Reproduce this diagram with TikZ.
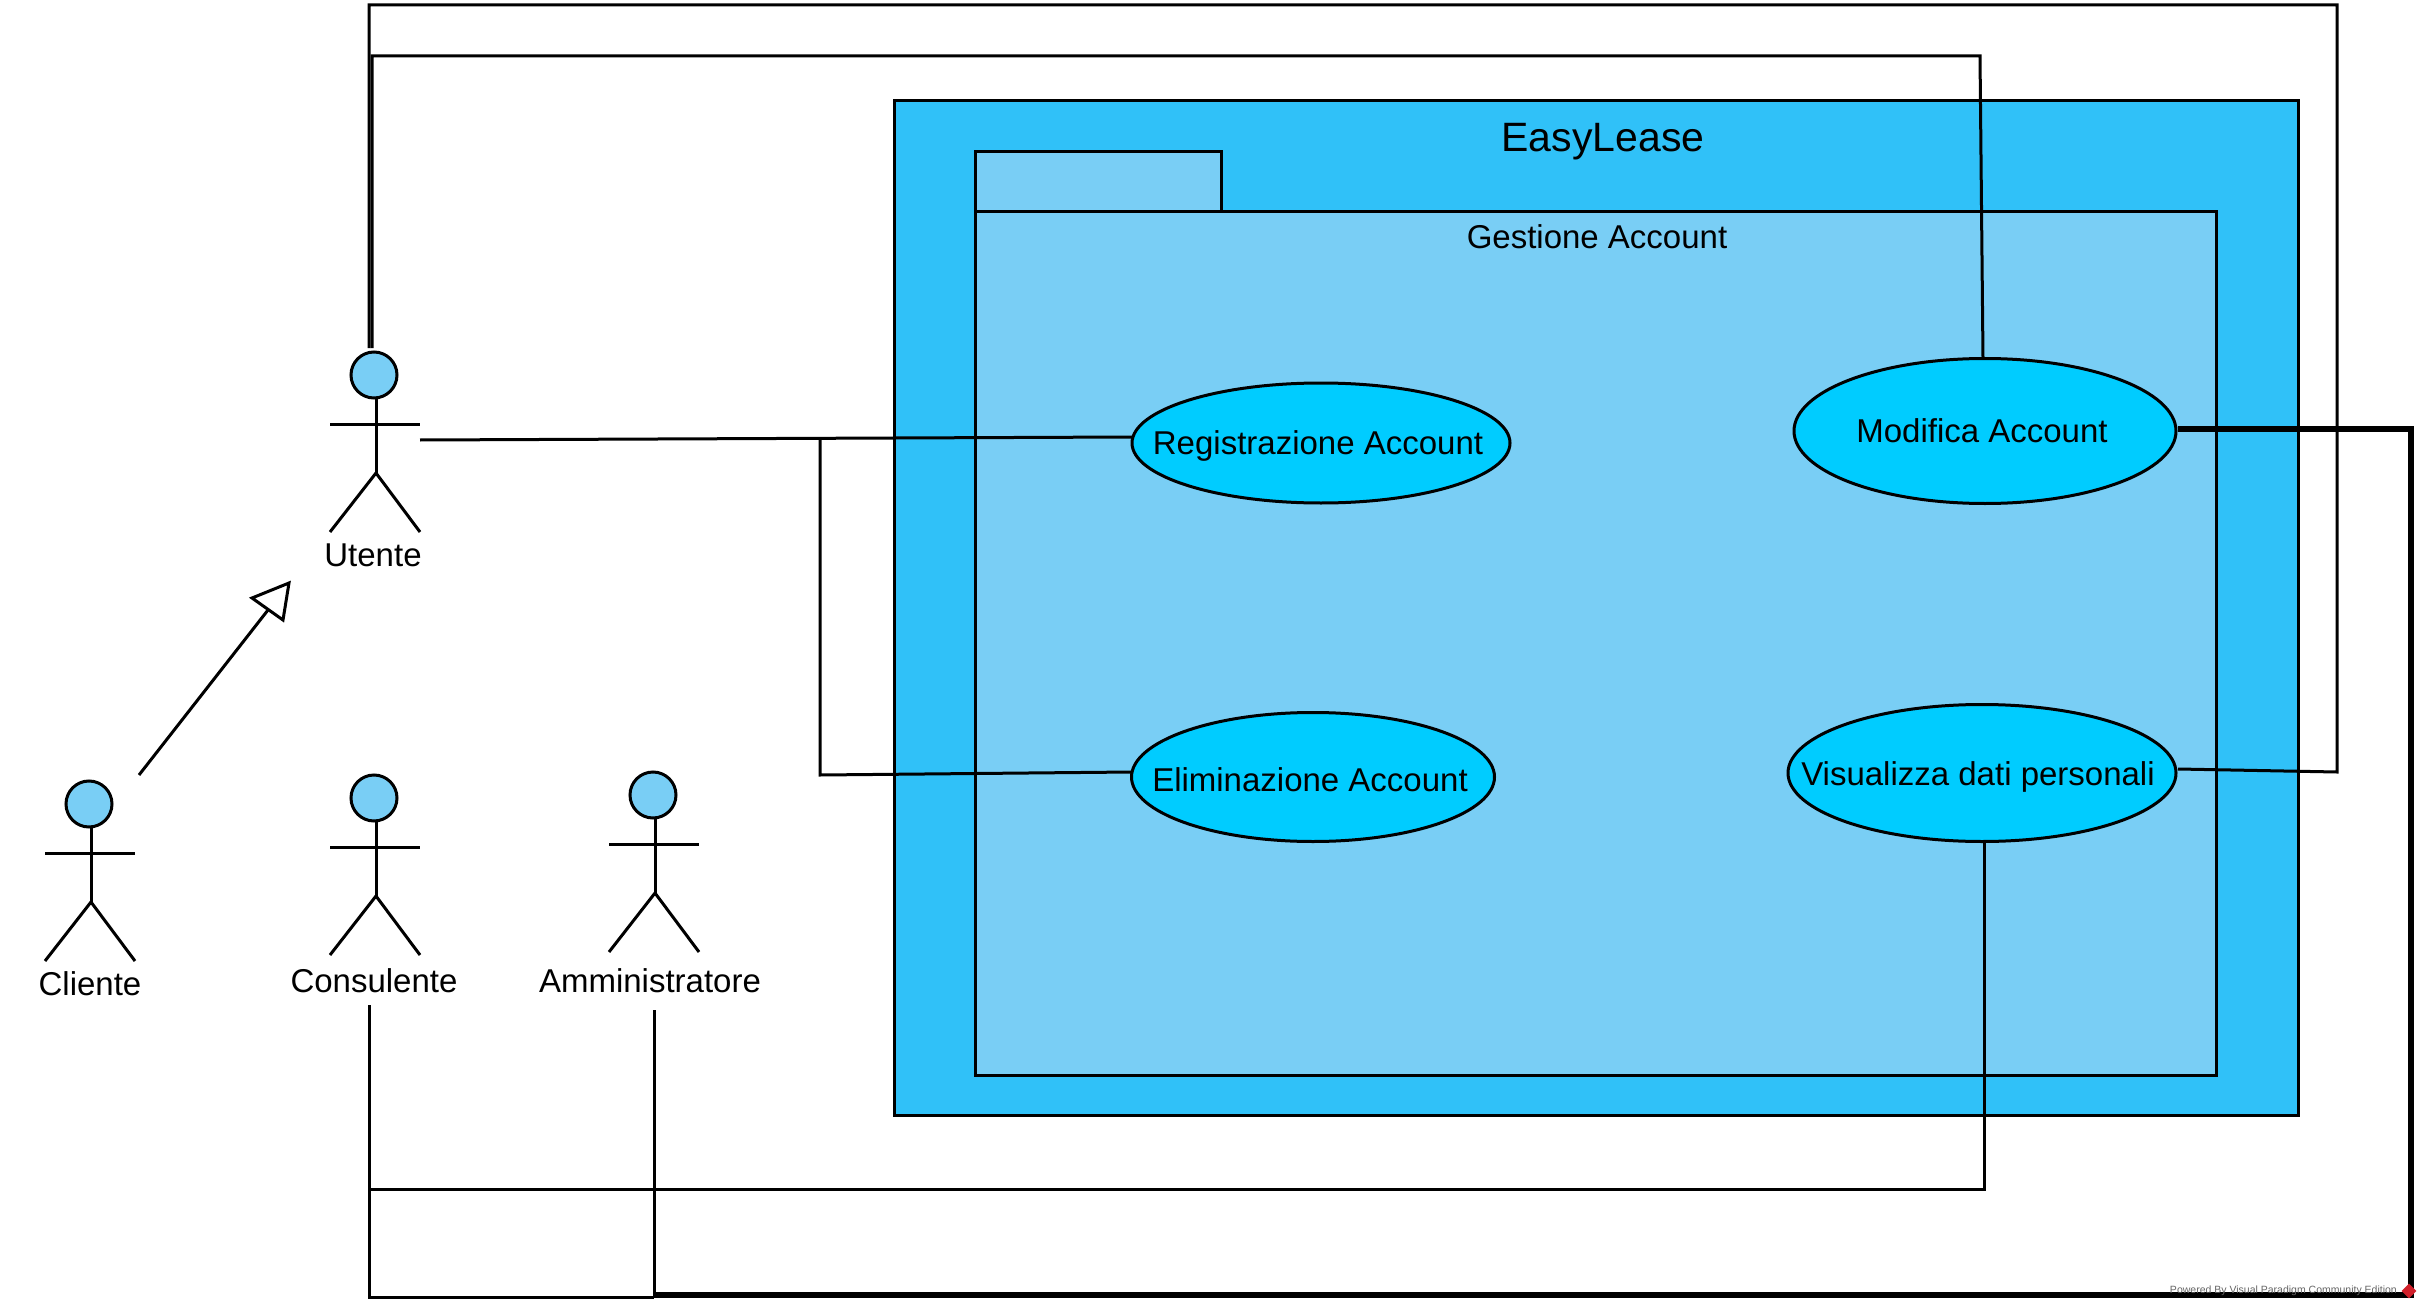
\documentclass[tikz,border=0pt]{standalone}
\usepackage{fontspec}
\setmainfont{Liberation Sans}
\usetikzlibrary{shapes.geometric}
\definecolor{sysblue}{HTML}{30C1F8}
\definecolor{pkgblue}{HTML}{79CEF5}
\definecolor{ucblue}{HTML}{00CCFF}
\definecolor{logored}{HTML}{D0202A}
\tikzset{
  ln/.style={line width=3pt,line join=miter},
  boxfill/.style={draw,line width=3pt,inner sep=0pt,outer sep=0pt,anchor=north west},
  uc/.style={ellipse,draw,line width=3pt,fill=ucblue,inner sep=0pt,outer sep=0pt},
  head/.style={circle,draw,line width=3pt,fill=pkgblue,minimum size=46pt,inner sep=0pt,outer sep=0pt},
  lbl/.style={inner sep=0pt,font=\fontsize{33}{38}\selectfont},
}
\newcommand{\actorbody}[2]{%
  \draw[ln] (#1+2,#2+23) -- (#1+2,#2+98);
  \draw[ln] (#1-44,#2+49) -- (#1+46,#2+49);
  \draw[ln,line join=round] (#1-44,#2+157) -- (#1+2,#2+98) -- (#1+46,#2+157);
}
\begin{document}
\begin{tikzpicture}[x=1pt,y=-1pt]
\useasboundingbox (0,0) rectangle (2421,1308);
\fill[white] (0,0) rectangle (2421,1308);
% system and package
\node[boxfill,fill=sysblue,minimum width=1404pt,minimum height=1014pt] (sys) at (894,101) {};
\node[lbl,font=\fontsize{41}{46}\selectfont] (sysname) at (1603,142) {EasyLease};
\node[boxfill,fill=pkgblue,minimum width=246pt,minimum height=62pt] (tab) at (975.5,152) {};
\node[boxfill,fill=pkgblue,minimum width=1241pt,minimum height=863pt] (pkg) at (975.5,212) {};
\node[lbl] (pkgname) at (1597,237) {Gestione Account};
% use cases
\node[uc,minimum width=378pt,minimum height=120pt] (reg) at (1321,443) {};
\node[lbl] (regt) at (1318,446) {Registrazione Account};
\node[uc,minimum width=382pt,minimum height=145pt] (mod) at (1985,431) {};
\node[lbl] (modt) at (1982,431) {Modifica Account};
\node[uc,minimum width=363pt,minimum height=129pt] (eli) at (1313,777) {};
\node[lbl] (elit) at (1310,780) {Eliminazione Account};
\node[uc,minimum width=388pt,minimum height=137pt] (vis) at (1982,773) {};
\node[lbl] (vist) at (1978,777) {Visualizza dati personali};
% actors
\actorbody{374}{375}
\node[head] (uhead) at (374,375) {};
\node[lbl] (ulbl) at (373,555) {Utente};
\actorbody{89}{804}
\node[head] (chead) at (89,804) {};
\node[lbl] (clbl) at (90,984) {Cliente};
\actorbody{374}{798}
\node[head] (ohead) at (374,798) {};
\node[lbl] (olbl) at (374,981) {Consulente};
\actorbody{653}{795}
\node[head] (ahead) at (653,795) {};
\node[lbl] (albl) at (650,981) {Amministratore};
% named free ends
\coordinate (uhand) at (420,440);
\coordinate (ubranch) at (820,440);
\coordinate (ubranchlow) at (820,775);
\coordinate (utop1) at (369,348);
\coordinate (utop2) at (372,348);
\coordinate (tl1) at (369,5);
\coordinate (tr1) at (2337,5);
\coordinate (br1) at (2337,772);
\coordinate (tl2) at (372,56);
\coordinate (tr2) at (1980,56);
\coordinate (ctop) at (369,1005);
\coordinate (atop) at (654,1010);
\coordinate (cmid) at (369,1189);
\coordinate (vmid) at (1984,1189);
\coordinate (cbot) at (369,1297);
\coordinate (abot) at (654,1297);
\coordinate (abot2) at (654,1295);
\coordinate (rbot) at (2411,1295);
\coordinate (rtop) at (2411,429);
\coordinate (modr) at (2178,429);
\coordinate (visr) at (2178,769);
\coordinate (regl) at (1132,437);
\coordinate (elil) at (1132,772);
% connectors
\draw[ln] (uhand) -- (regl);
\draw[ln] (ubranch) -- (ubranchlow) -- (elil);
\draw[ln] (utop1) -- (tl1) -- (tr1) -- (br1) -- (visr);
\draw[ln] (utop2) -- (tl2) -- (tr2) -- ([xshift=-2pt]mod.north);
\draw[ln] ([xshift=2pt]vis.south) -- (vmid) -- (cmid);
\draw[ln] (ctop) -- (cbot) -- (abot);
\draw[ln] (atop) -- (abot);
\draw[line width=6pt,line join=miter] (abot2) -- (rbot) -- (rtop) -- (modr);
% generalization
\coordinate (gstart) at (139,775);
\coordinate (gend) at (268,610);
\draw[ln] (gstart) -- (gend);
\draw[ln,fill=white] (252,598) -- (289,583) -- (283,620) -- cycle;
% watermark
\node[inner sep=0pt,text=black!60,font=\fontsize{10.5}{12}\selectfont,anchor=east] (wm) at (2397,1291) {Powered By Visual Paradigm Community Edition};
\node[diamond,fill=logored,minimum size=15pt,inner sep=0pt] (logo) at (2409,1291) {};
\end{tikzpicture}
\end{document}
